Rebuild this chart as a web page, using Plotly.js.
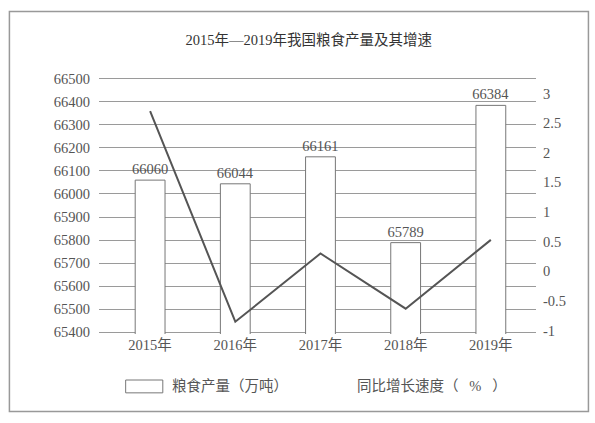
<!DOCTYPE html>
<html>
<head>
<meta charset="utf-8">
<script src="https://cdn.plot.ly/plotly-3.0.1.min.js"></script>
<style>
html,body{margin:0;padding:0;background:#fff;}
#chart{width:595px;height:423px;}
</style>
</head>
<body>
<div id="chart"></div>
<script>
const years = ["2015年", "2016年", "2017年", "2018年", "2019年"];
const output = [66060, 66044, 66161, 65789, 66384];
const growth = [2.7, -0.85, 0.3, -0.63, 0.53];
const leftTicks = [65400, 65500, 65600, 65700, 65800, 65900, 66000, 66100, 66200, 66300, 66400, 66500];
const rightTickVals = [-1, -0.5, 0, 0.5, 1, 1.5, 2, 2.5, 3];
const rightTickText = ["-1", "-0.5", "0", "0.5", "1", "1.5", "2", "2.5", "3"];
const titleText = "2015年—2019年我国粮食产量及其增速";
const barName = "粮食产量（万吨）";
const lineName = "同比增长速度（   %   ）";

const FONT = "Liberation Serif, DejaVu Serif, Noto Sans CJK SC, serif";
const TXT = "#555";

const traces = [
  {
    type: "bar",
    x: years,
    y: output,
    width: 0.35,
    marker: {color: "#ffffff", line: {color: "#777", width: 1}},
    text: output.map(String),
    textposition: "outside",
    constraintext: "none",
    textfont: {family: FONT, size: 14.5, color: TXT},
    cliponaxis: false,
    showlegend: false,
    name: barName
  },
  {
    type: "scatter",
    mode: "lines",
    x: years,
    y: growth,
    yaxis: "y2",
    line: {color: "#555", width: 2},
    showlegend: false,
    name: lineName
  }
];

const layout = {
  width: 595,
  height: 423,
  paper_bgcolor: "#ffffff",
  plot_bgcolor: "rgba(0,0,0,0)",
  margin: {l: 99, r: 59, t: 77, b: 89},
  font: {family: FONT, color: TXT, size: 14.5},
  title: {
    text: titleText,
    x: 0.48, xref: "paper", xanchor: "center",
    y: 0.905, yref: "container", yanchor: "middle",
    font: {family: FONT, size: 14.5, color: "#333"}
  },
  xaxis: {
    type: "category",
    range: [-0.6, 4.53],
    showgrid: false,
    showline: false,
    ticks: "",
    tickfont: {family: FONT, size: 14.5, color: TXT}
  },
  yaxis: {
    range: [65393, 66507],
    tickvals: leftTicks,
    ticktext: leftTicks.map(String),
    showgrid: true,
    gridcolor: "#9a9a9a",
    gridwidth: 1,
    zeroline: false,
    showline: false,
    ticks: "",
    ticklabelstandoff: 8,
    tickfont: {family: FONT, size: 14.5, color: TXT}
  },
  yaxis2: {
    overlaying: "y",
    side: "right",
    range: [-1.057, 3.277],
    tickvals: rightTickVals,
    ticktext: rightTickText,
    showgrid: false,
    zeroline: false,
    showline: false,
    ticks: "",
    ticklabelstandoff: 6,
    tickfont: {family: FONT, size: 14.5, color: TXT}
  },
  shapes: [
    {type: "rect", xref: "paper", yref: "paper", x0: -0.205, x1: 1.12, y0: -0.302, y1: 1.255,
     line: {color: "#999", width: 1.5}, fillcolor: "rgba(0,0,0,0)"},
    {type: "rect", xref: "paper", yref: "paper", x0: 0.061, x1: 0.146, y0: -0.229, y1: -0.179,
     line: {color: "#777", width: 1}, fillcolor: "#ffffff"}
  ],
  annotations: [
    {xref: "paper", yref: "paper", x: 0.163, y: -0.202, xanchor: "left", yanchor: "middle",
     text: barName, showarrow: false, font: {family: FONT, size: 14.5, color: TXT}},
    {xref: "paper", yref: "paper", x: 0.585, y: -0.202, xanchor: "left", yanchor: "middle",
     text: lineName, showarrow: false, font: {family: FONT, size: 14.5, color: TXT}}
  ]
};

Plotly.newPlot("chart", traces, layout, {displayModeBar: false, staticPlot: true});
</script>
</body>
</html>
